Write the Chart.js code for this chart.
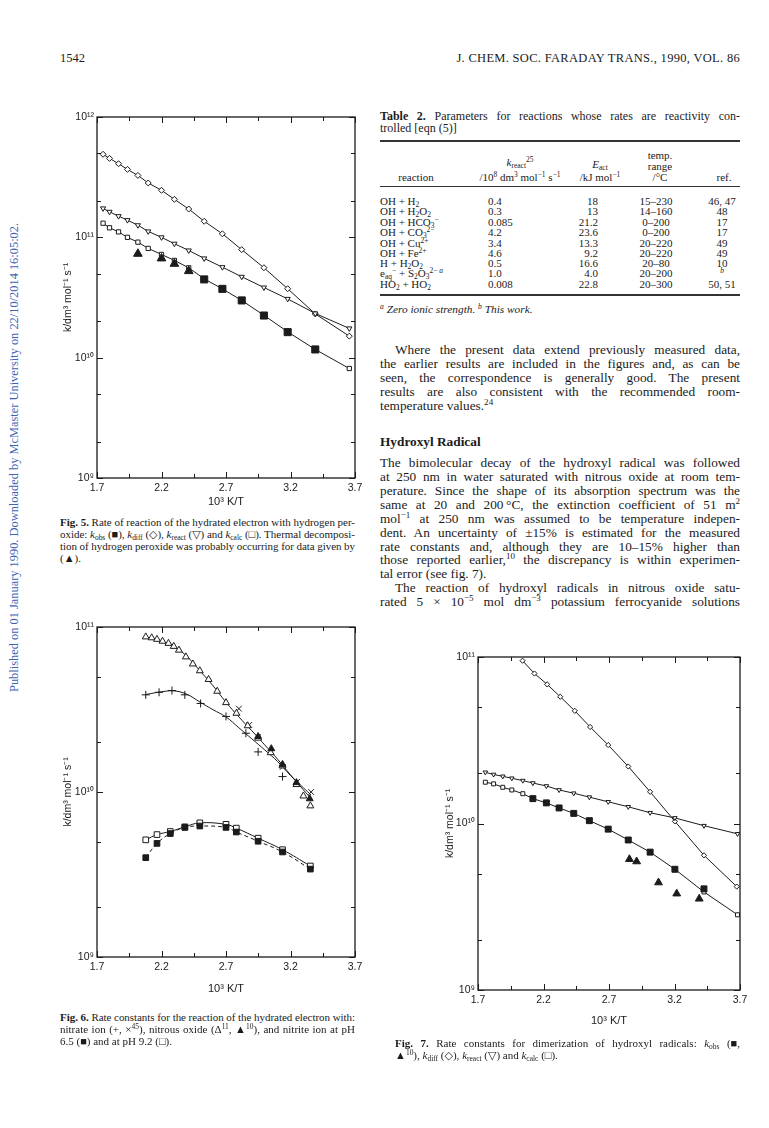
<!DOCTYPE html>
<html lang="en">
<head>
<meta charset="utf-8">
<title>J. Chem. Soc. Faraday Trans. 1990, p. 1542</title>
<script src="https://cdn.jsdelivr.net/npm/chart.js@4.4.0/dist/chart.umd.min.js"></script>
<style>
  html, body { margin: 0; padding: 0; background: #fff; }
  body { position: relative; width: 769px; height: 1128px; overflow: hidden;
         font-family: "Liberation Serif", "DejaVu Serif", serif; color: #1b1b1b; }
  .t { position: absolute; white-space: nowrap; font-size: 13.3px; line-height: 14px; }
  .c { font-size: 11px; line-height: 12px; }
  .tb { font-size: 11px; line-height: 11px; }
  .cap { font-size: 12px; line-height: 12px; }
  .r { text-align: right; }
  .m { text-align: center; }
  sub, sup { font-size: 68%; line-height: 0; }
  sub { vertical-align: -0.3em; }
  sup { vertical-align: 0.55em; }
  .rule { position: absolute; left: 380px; width: 360px; height: 1px; background: #333; }
  canvas { position: absolute; }
  .side { position: absolute; left: 7px; top: 692px; transform-origin: 0 0; transform: rotate(-90deg);
          white-space: nowrap; font-size: 12.4px; line-height: 14px; color: #3f63b3; }
</style>
</head>
<body>

<div class="side">Published on 01 January 1990. Downloaded by McMaster University on 22/10/2014 16:05:02.</div>

<div class="t" style="left:60px;top:51px;font-size:12.5px">1542</div>
<div class="t" style="right:29px;top:51px;font-size:12.5px;letter-spacing:0.3px">J. CHEM. SOC. FARADAY TRANS., 1990, VOL. 86</div>

<!-- Table 2 -->
<div class="t cap j" data-w="360" style="left:380px;top:110px"><b>Table 2.</b> Parameters for reactions whose rates are reactivity con-</div>
<div class="t cap" style="left:380px;top:122px">trolled [eqn (5)]</div>
<div class="rule" style="top:140px;height:2px"></div>
<div class="t tb m" style="left:625px;width:70px;top:150px">temp.</div>
<div class="t tb m" style="left:460px;width:120px;top:157px"><i>k</i><sub>react</sub><sup>25</sup></div>
<div class="t tb m" style="left:565px;width:70px;top:159px"><i>E</i><sub>act</sub></div>
<div class="t tb m" style="left:625px;width:70px;top:161px">range</div>
<div class="t tb m" style="left:386px;width:60px;top:172px">reaction</div>
<div class="t tb m" style="left:455px;width:130px;top:172px">/10<sup>8</sup> dm<sup>3</sup> mol<sup>−1</sup> s<sup>−1</sup></div>
<div class="t tb m" style="left:565px;width:70px;top:172px">/kJ mol<sup>−1</sup></div>
<div class="t tb m" style="left:625px;width:70px;top:172px">/°C</div>
<div class="t tb m" style="left:704px;width:40px;top:172px">ref.</div>
<div class="rule" style="top:186px"></div>

<div class="t tb" style="left:380px;top:196px">OH + H<sub>2</sub></div>
<div class="t tb" style="left:488px;top:196px">0.4</div>
<div class="t tb r" style="left:548px;width:50px;top:196px">18</div>
<div class="t tb m" style="left:621px;width:70px;top:196px">15–230</div>
<div class="t tb m" style="left:700px;width:44px;top:196px">46, 47</div>

<div class="t tb" style="left:380px;top:206px">OH + H<sub>2</sub>O<sub>2</sub></div>
<div class="t tb" style="left:488px;top:206px">0.3</div>
<div class="t tb r" style="left:548px;width:50px;top:206px">13</div>
<div class="t tb m" style="left:621px;width:70px;top:206px">14–160</div>
<div class="t tb m" style="left:700px;width:44px;top:206px">48</div>

<div class="t tb" style="left:380px;top:217px">OH + HCO<sub>3</sub><sup>−</sup></div>
<div class="t tb" style="left:488px;top:217px">0.085</div>
<div class="t tb r" style="left:548px;width:50px;top:217px">21.2</div>
<div class="t tb m" style="left:621px;width:70px;top:217px">0–200</div>
<div class="t tb m" style="left:700px;width:44px;top:217px">17</div>

<div class="t tb" style="left:380px;top:227px">OH + CO<sub>3</sub><sup>2−</sup></div>
<div class="t tb" style="left:488px;top:227px">4.2</div>
<div class="t tb r" style="left:548px;width:50px;top:227px">23.6</div>
<div class="t tb m" style="left:621px;width:70px;top:227px">0–200</div>
<div class="t tb m" style="left:700px;width:44px;top:227px">17</div>

<div class="t tb" style="left:380px;top:238px">OH + Cu<sup>2+</sup></div>
<div class="t tb" style="left:488px;top:238px">3.4</div>
<div class="t tb r" style="left:548px;width:50px;top:238px">13.3</div>
<div class="t tb m" style="left:621px;width:70px;top:238px">20–220</div>
<div class="t tb m" style="left:700px;width:44px;top:238px">49</div>

<div class="t tb" style="left:380px;top:248px">OH + Fe<sup>2+</sup></div>
<div class="t tb" style="left:488px;top:248px">4.6</div>
<div class="t tb r" style="left:548px;width:50px;top:248px">9.2</div>
<div class="t tb m" style="left:621px;width:70px;top:248px">20–220</div>
<div class="t tb m" style="left:700px;width:44px;top:248px">49</div>

<div class="t tb" style="left:380px;top:258px">H + H<sub>2</sub>O<sub>2</sub></div>
<div class="t tb" style="left:488px;top:258px">0.5</div>
<div class="t tb r" style="left:548px;width:50px;top:258px">16.6</div>
<div class="t tb m" style="left:621px;width:70px;top:258px">20–80</div>
<div class="t tb m" style="left:700px;width:44px;top:258px">10</div>

<div class="t tb" style="left:380px;top:268px">e<sub>aq</sub><sup>−</sup> + S<sub>2</sub>O<sub>3</sub><sup>2−&nbsp;<i>a</i></sup></div>
<div class="t tb" style="left:488px;top:268px">1.0</div>
<div class="t tb r" style="left:548px;width:50px;top:268px">4.0</div>
<div class="t tb m" style="left:621px;width:70px;top:268px">20–200</div>
<div class="t tb m" style="left:700px;width:44px;top:268px"><sup><i>b</i></sup></div>

<div class="t tb" style="left:380px;top:279px">HO<sub>2</sub> + HO<sub>2</sub></div>
<div class="t tb" style="left:488px;top:279px">0.008</div>
<div class="t tb r" style="left:548px;width:50px;top:279px">22.8</div>
<div class="t tb m" style="left:621px;width:70px;top:279px">20–300</div>
<div class="t tb m" style="left:700px;width:44px;top:279px">50, 51</div>
<div class="rule" style="top:294px;height:1.5px"></div>
<div class="t tb" style="left:380px;top:304px;font-size:11.3px"><sup><i>a</i></sup> <i>Zero ionic strength.</i> <sup><i>b</i></sup> <i>This work.</i></div>

<!-- right column text -->
<div class="t j" data-w="345" style="left:395px;top:343px">Where the present data extend previously measured data,</div>
<div class="t j" data-w="360" style="left:380px;top:357px">the earlier results are included in the figures and, as can be</div>
<div class="t j" data-w="360" style="left:380px;top:371px">seen, the correspondence is generally good. The present</div>
<div class="t j" data-w="360" style="left:380px;top:385px">results are also consistent with the recommended room-</div>
<div class="t" style="left:380px;top:399px">temperature values.<sup>24</sup></div>

<div class="t" style="left:380px;top:435px"><b>Hydroxyl Radical</b></div>

<div class="t j" data-w="360" style="left:380px;top:456px">The bimolecular decay of the hydroxyl radical was followed</div>
<div class="t j" data-w="360" style="left:380px;top:470px">at 250 nm in water saturated with nitrous oxide at room tem-</div>
<div class="t j" data-w="360" style="left:380px;top:484px">perature. Since the shape of its absorption spectrum was the</div>
<div class="t j" data-w="360" style="left:380px;top:498px">same at 20 and 200&#8239;°C, the extinction coefficient of 51 m<sup>2</sup></div>
<div class="t j" data-w="360" style="left:380px;top:512px">mol<sup>−1</sup> at 250 nm was assumed to be temperature indepen-</div>
<div class="t j" data-w="360" style="left:380px;top:526px">dent. An uncertainty of ±15% is estimated for the measured</div>
<div class="t j" data-w="360" style="left:380px;top:540px">rate constants and, although they are 10–15% higher than</div>
<div class="t j" data-w="360" style="left:380px;top:553px">those reported earlier,<sup>10</sup> the discrepancy is within experimen-</div>
<div class="t" style="left:380px;top:567px">tal error (see fig. 7).</div>
<div class="t j" data-w="345" style="left:395px;top:581px">The reaction of hydroxyl radicals in nitrous oxide satu-</div>
<div class="t j" data-w="360" style="left:380px;top:595px">rated 5 × 10<sup>−5</sup> mol dm<sup>−3</sup> potassium ferrocyanide solutions</div>

<!-- charts -->
<canvas id="fig5" width="317" height="413" style="left:58px;top:100px"></canvas>
<canvas id="fig6" width="317" height="395" style="left:58px;top:605px"></canvas>
<canvas id="fig7" width="320" height="392" style="left:440px;top:640px"></canvas>

<!-- captions -->
<div class="t c j" data-w="295" style="left:60px;top:516px"><b>Fig. 5.</b> Rate of reaction of the hydrated electron with hydrogen per-</div>
<div class="t c j" data-w="295" style="left:60px;top:528px">oxide: <i>k</i><sub>obs</sub> (■), <i>k</i><sub>diff</sub> (◇), <i>k</i><sub>react</sub> (▽) and <i>k</i><sub>calc</sub> (□). Thermal decomposi-</div>
<div class="t c j" data-w="295" style="left:60px;top:540px">tion of hydrogen peroxide was probably occurring for data given by</div>
<div class="t c" style="left:60px;top:552px">(▲).</div>

<div class="t c j" data-w="295" style="left:60px;top:1011px"><b>Fig. 6.</b> Rate constants for the reaction of the hydrated electron with:</div>
<div class="t c j" data-w="295" style="left:60px;top:1023px">nitrate ion (+, ×<sup>45</sup>), nitrous oxide (Δ<sup>11</sup>, ▲<sup>10</sup>), and nitrite ion at pH</div>
<div class="t c" style="left:60px;top:1035px">6.5 (■) and at pH 9.2 (□).</div>

<div class="t c j" data-w="345" style="left:395px;top:1037px"><b>Fig. 7.</b> Rate constants for dimerization of hydroxyl radicals: <i>k</i><sub>obs</sub> (■,</div>
<div class="t c" style="left:395px;top:1049px">▲<sup>10</sup>), <i>k</i><sub>diff</sub> (◇), <i>k</i><sub>react</sub> (▽) and <i>k</i><sub>calc</sub> (□).</div>

<script>
// axis ticks (10^3 K/T and k / dm3 mol-1 s-1)
const xTickValues = [1.7, 2.2, 2.7, 3.2, 3.7];
const xTickMarks = [1.7, 1.95, 2.2, 2.45, 2.7, 2.95, 3.2, 3.45, 3.7];
const yDecades = [1e9, 1e10, 1e11, 1e12];
const yDecadeLabels = ['10⁹', '10¹⁰', '10¹¹', '10¹²'];
const yTickMarks = [1e9, 2e9, 5e9, 1e10, 2e10, 5e10, 1e11, 2e11, 5e11, 1e12];

// Fig. 5  e(aq) + H2O2
const f5X = [1.747, 1.797, 1.867, 1.936, 2.017, 2.097, 2.2, 2.3, 2.411, 2.531, 2.672, 2.822, 2.994, 3.178, 3.392, 3.656];
const f5Diff = [4.9e11, 4.53e11, 4.09e11, 3.67e11, 3.27e11, 2.83e11, 2.46e11, 2.07e11, 1.72e11, 1.36e11, 1.07e11, 7.9e10, 5.59e10, 3.74e10, 2.31e10, 1.51e10];
const f5React = [1.74e11, 1.63e11, 1.5e11, 1.39e11, 1.26e11, 1.12e11, 1.0e11, 8.85e10, 7.78e10, 6.68e10, 5.65e10, 4.7e10, 3.83e10, 3.08e10, 2.33e10, 1.75e10];
const f5Calc = [1.31e11, 1.2e11, 1.11e11, 1.0e11, 9.12e10, 8.09e10, 7.21e10, 6.43e10, 5.58e10, 4.52e10, 3.73e10, 2.99e10, 2.25e10, 1.64e10, 1.17e10, 8.13e9];
const f5ObsX = [2.531, 2.672, 2.822, 2.994, 3.178, 3.392];
const f5Obs = [4.47e10, 3.73e10, 2.99e10, 2.24e10, 1.63e10, 1.17e10];
const f5DecompX = [2.017, 2.2, 2.3, 2.411];
const f5Decomp = [7.3e10, 6.68e10, 6.03e10, 5.24e10];

// Fig. 6  e(aq) + NO3-, N2O, NO2-
const f6N2OX = [2.078, 2.124, 2.165, 2.208, 2.254, 2.295, 2.335, 2.389, 2.443, 2.497, 2.565, 2.632, 2.7, 2.781, 2.868, 2.949, 3.046, 3.138, 3.246, 3.3, 3.354];
const f6N2O = [8.71e10, 8.6e10, 8.42e10, 8.2e10, 7.96e10, 7.63e10, 7.24e10, 6.59e10, 5.97e10, 5.43e10, 4.81e10, 4.08e10, 3.48e10, 3.0e10, 2.52e10, 2.12e10, 1.73e10, 1.44e10, 1.11e10, 9.46e9, 8.24e9];
const f6N2OFilledX = [2.949, 3.051, 3.138, 3.246, 3.349];
const f6N2OFilled = [2.17e10, 1.83e10, 1.47e10, 1.14e10, 9.1e9];
const f6PlusX = [2.078, 2.181, 2.281, 2.381, 2.503, 2.7, 2.854, 2.949, 3.138];
const f6Plus = [3.88e10, 4.02e10, 4.12e10, 3.88e10, 3.44e10, 2.87e10, 2.27e10, 1.75e10, 1.24e10];
const f6CrossX = [2.8, 2.88, 2.95, 3.05, 3.14, 3.25, 3.36];
const f6Cross = [3.2e10, 2.55e10, 2.15e10, 1.75e10, 1.42e10, 1.15e10, 1.0e10];
const f6FitX = [2.08, 2.2, 2.3, 2.4, 2.5, 2.6, 2.7, 2.8, 2.9, 3.0, 3.1, 3.2, 3.3, 3.36];
const f6FitN2O = [8.7e10, 8.2e10, 7.6e10, 6.6e10, 5.4e10, 4.4e10, 3.5e10, 2.85e10, 2.35e10, 1.93e10, 1.58e10, 1.27e10, 1.03e10, 9.1e9];
const f6FitNO3 = [3.9e10, 4.05e10, 4.1e10, 3.9e10, 3.5e10, 3.15e10, 2.85e10, 2.45e10, 2.1e10, 1.8e10, 1.53e10, 1.26e10, 1.06e10, 9.6e9];
const f6NO2X = [2.078, 2.165, 2.268, 2.381, 2.497, 2.7, 2.78, 2.949, 3.138, 3.354];
const f6NO2pH92 = [5.13e9, 5.52e9, 5.76e9, 6.15e9, 6.5e9, 6.37e9, 6.04e9, 5.25e9, 4.47e9, 3.56e9];
const f6NO2pH65 = [4.0e9, 4.88e9, 5.6e9, 6.1e9, 6.22e9, 6.1e9, 5.72e9, 5.03e9, 4.33e9, 3.41e9];

// Fig. 7  OH + OH
const f7DiffX = [2.04, 2.131, 2.228, 2.328, 2.439, 2.556, 2.694, 2.847, 3.014, 3.203, 3.425, 3.675];
const f7Diff = [9.5e10, 7.96e10, 6.85e10, 5.77e10, 4.75e10, 3.8e10, 2.96e10, 2.2e10, 1.55e10, 1.03e10, 6.44e9, 4.18e9];
const f7X = [1.756, 1.819, 1.889, 1.958, 2.042, 2.119, 2.222, 2.319, 2.431, 2.55, 2.694, 2.847, 3.014, 3.203, 3.425, 3.681];
const f7React = [2.03e10, 1.97e10, 1.92e10, 1.87e10, 1.81e10, 1.75e10, 1.68e10, 1.59e10, 1.52e10, 1.44e10, 1.35e10, 1.26e10, 1.16e10, 1.08e10, 9.7e9, 8.67e9];
const f7Calc = [1.77e10, 1.73e10, 1.65e10, 1.59e10, 1.51e10, 1.41e10, 1.33e10, 1.24e10, 1.15e10, 1.04e10, 9.25e9, 7.96e9, 6.73e9, 5.31e9, 3.88e9, 2.83e9];
const f7ObsX = [2.119, 2.222, 2.319, 2.431, 2.55, 2.694, 2.847, 3.014, 3.203, 3.425];
const f7Obs = [1.41e10, 1.33e10, 1.24e10, 1.15e10, 1.04e10, 9.25e9, 7.96e9, 6.73e9, 5.31e9, 4.05e9];
const f7LitX = [2.856, 2.911, 3.078, 3.217, 3.389];
const f7Lit = [6.1e9, 5.91e9, 4.42e9, 3.79e9, 3.53e9];

const ink = '#1b1b1b';
const sans = 'Liberation Sans';

// stretch (or squeeze) justified text lines to their column width
document.querySelectorAll('.j').forEach(el => {
  const w = +el.dataset.w;
  const nat = el.getBoundingClientRect().width;
  const gaps = (el.textContent.match(/ /g) || []).length;
  if (nat > w) {
    el.style.letterSpacing = ((w - nat) / el.textContent.length) + 'px';
  } else if (gaps) {
    el.style.wordSpacing = ((w - nat) / gaps) + 'px';
  }
});

function pts(xs, ks) { return ks.map((k, i) => ({ x: xs[i], y: k })); }

function marks(xs, ks, style, r, filled, extra) {
  return Object.assign({
    data: pts(xs, ks), showLine: false, pointStyle: style, pointRadius: r,
    pointBorderWidth: 1, pointBorderColor: ink,
    pointBackgroundColor: filled ? ink : '#fff',
    borderColor: ink, borderWidth: 1, tension: 0
  }, extra || {});
}

function curve(xs, ks, extra) {
  return Object.assign({
    data: pts(xs, ks), showLine: true, pointRadius: 0,
    borderColor: ink, borderWidth: 1, tension: 0.4
  }, extra || {});
}

// frame and inward tick marks on all four sides
const boxTicks = {
  id: 'boxTicks',
  afterDatasetsDraw(chart) {
    const { ctx, chartArea: a, scales: { x, y } } = chart;
    ctx.save();
    ctx.strokeStyle = ink;
    ctx.lineWidth = 1.3;
    ctx.strokeRect(a.left, a.top, a.right - a.left, a.bottom - a.top);
    ctx.lineWidth = 1;
    ctx.beginPath();
    xTickMarks.forEach(v => {
      const px = Math.round(x.getPixelForValue(v)) + 0.5;
      const len = xTickValues.includes(v) ? 6 : 4;
      ctx.moveTo(px, a.bottom); ctx.lineTo(px, a.bottom - len);
      ctx.moveTo(px, a.top); ctx.lineTo(px, a.top + len);
    });
    yTickMarks.filter(v => v >= y.min && v <= y.max).forEach(v => {
      const py = Math.round(y.getPixelForValue(v)) + 0.5;
      const len = yDecades.includes(v) ? 6 : 4;
      ctx.moveTo(a.left, py); ctx.lineTo(a.left + len, py);
      ctx.moveTo(a.right, py); ctx.lineTo(a.right - len, py);
    });
    ctx.stroke();
    ctx.restore();
  }
};

function makeChart(id, datasets, yMax, box) {
  return new Chart(document.getElementById(id), {
    type: 'scatter',
    data: { datasets },
    plugins: [boxTicks],
    options: {
      responsive: false, animation: false, devicePixelRatio: 1,
      layout: { padding: { top: box.top, right: box.right, left: 0, bottom: 0 } },
      plugins: { legend: { display: false }, tooltip: { enabled: false } },
      scales: {
        x: {
          type: 'linear', min: 1.7, max: 3.7,
          afterBuildTicks: s => { s.ticks = xTickValues.map(v => ({ value: v })); },
          afterFit: s => { s.height = box.xh; },
          grid: { display: false, drawTicks: false }, border: { display: false },
          ticks: { padding: 4, color: ink, autoSkip: false, maxRotation: 0,
                   font: { family: sans, size: 10.5 }, callback: v => v.toFixed(1) },
          title: { display: true, text: '10³ K/T', color: ink, padding: { top: 0, bottom: 4 },
                   font: { family: sans, size: 11 } }
        },
        y: {
          type: 'logarithmic', min: 1e9, max: yMax,
          afterBuildTicks: s => { s.ticks = yDecades.filter(v => v <= yMax).map(v => ({ value: v })); },
          afterFit: s => { s.width = box.yw; },
          grid: { display: false, drawTicks: false }, border: { display: false },
          ticks: { padding: 3, color: ink, autoSkip: false,
                   font: { family: sans, size: 10.5 },
                   callback: v => yDecadeLabels[yDecades.indexOf(v)] },
          title: { display: true, text: 'k/dm³ mol⁻¹ s⁻¹', color: ink, padding: 4,
                   font: { family: sans, size: 10.5 } }
        }
      }
    }
  });
}

makeChart('fig5', [
  marks(f5ObsX, f5Obs, 'rect', 5, true),
  marks(f5DecompX, f5Decomp, 'triangle', 5, true),
  marks(f5X, f5Calc, 'rect', 3, false, { showLine: true }),
  marks(f5X, f5React, 'triangle', 3, false, { showLine: true, pointRotation: 180 }),
  marks(f5X, f5Diff, 'rectRot', 3, false, { showLine: true })
], 1e12, { top: 17, right: 20, yw: 39, xh: 35 });

makeChart('fig6', [
  marks(f6N2OFilledX, f6N2OFilled, 'triangle', 4, true),
  marks(f6NO2X, f6NO2pH65, 'rect', 4, true),
  marks(f6NO2X, f6NO2pH92, 'rect', 4, false),
  marks(f6N2OX, f6N2O, 'triangle', 4, false),
  marks(f6PlusX, f6Plus, 'cross', 4, false),
  marks(f6CrossX, f6Cross, 'crossRot', 4, false),
  curve(f6NO2X, f6NO2pH65, { borderDash: [4, 3] }),
  curve(f6NO2X, f6NO2pH92),
  curve(f6FitX, f6FitN2O),
  curve(f6FitX, f6FitNO3)
], 1e11, { top: 22, right: 20, yw: 39, xh: 43 });

makeChart('fig7', [
  marks(f7LitX, f7Lit, 'triangle', 4.5, true),
  marks(f7ObsX, f7Obs, 'rect', 4.2, true),
  marks(f7X, f7Calc, 'rect', 2.8, false, { showLine: true }),
  marks(f7X, f7React, 'triangle', 2.6, false, { showLine: true, pointRotation: 180 }),
  marks(f7DiffX, f7Diff, 'rectRot', 2.6, false, { showLine: true })
], 1e11, { top: 17, right: 20, yw: 38, xh: 42 });
</script>
</body>
</html>
